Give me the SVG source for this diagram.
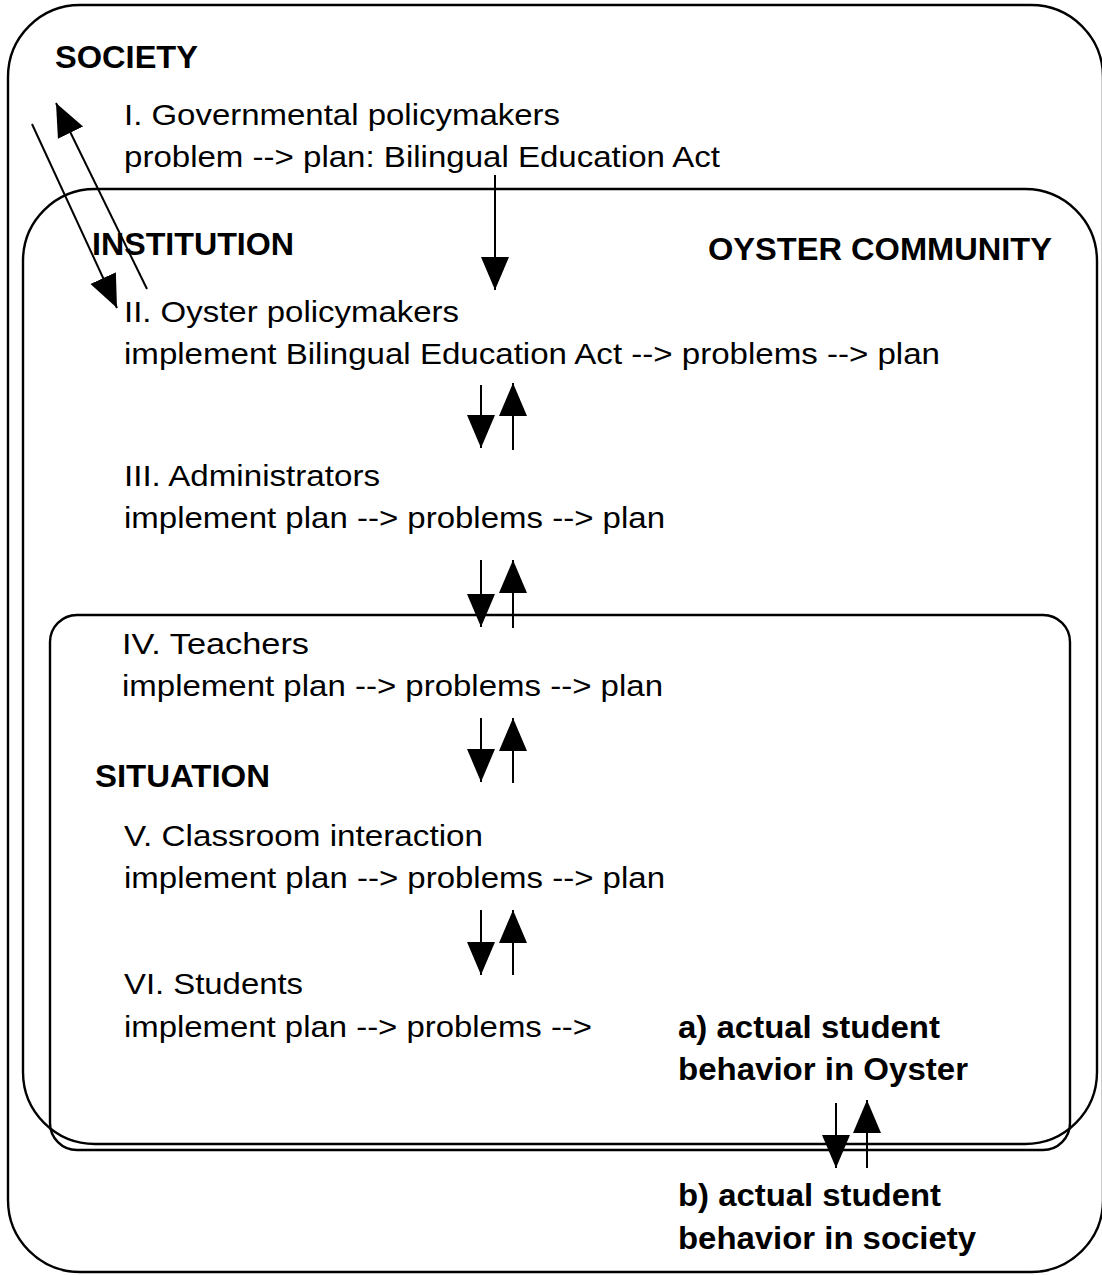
<svg xmlns="http://www.w3.org/2000/svg" width="1102" height="1275" viewBox="0 0 1102 1275">
<style>
.box{fill:none;stroke:#000;stroke-width:2.4}
.t{font-family:"Liberation Sans",Arial,sans-serif;font-size:30px;fill:#000}
.b{font-family:"Liberation Sans",Arial,sans-serif;font-size:31px;font-weight:bold;fill:#000}
.c{stroke:#000;stroke-width:2;fill:none;marker-end:url(#ah)}
</style>
<defs>
<marker id="ah" markerUnits="userSpaceOnUse" markerWidth="34" markerHeight="30" refX="33" refY="14" orient="auto" viewBox="0 0 34 28">
<path d="M0,0 L33,14 L0,28 z" fill="#000"/>
</marker>
</defs>
<rect width="1102" height="1275" fill="#fff"/>
<g id="society">
<rect class="box" x="8" y="5" width="1095" height="1267" rx="72" ry="72"/>
<text class="b" x="55" y="68" textLength="143" lengthAdjust="spacingAndGlyphs">SOCIETY</text>
</g>
<g id="institution">
<rect class="box" x="23" y="189" width="1074" height="955" rx="72" ry="72"/>
<text class="b" x="92" y="255" textLength="202" lengthAdjust="spacingAndGlyphs">INSTITUTION</text>
<text class="b" x="708" y="260" textLength="344" lengthAdjust="spacingAndGlyphs">OYSTER COMMUNITY</text>
</g>
<g id="situation">
<rect class="box" x="50" y="615" width="1020" height="535" rx="27" ry="27"/>
<text class="b" x="95" y="787" textLength="175" lengthAdjust="spacingAndGlyphs">SITUATION</text>
</g>
<g id="level1">
<text class="t" x="124" y="125" textLength="436" lengthAdjust="spacingAndGlyphs">I. Governmental policymakers</text>
<text class="t" x="124" y="167" textLength="596" lengthAdjust="spacingAndGlyphs">problem --&gt; plan: Bilingual Education Act</text>
</g>
<g id="level2">
<text class="t" x="124" y="322" textLength="335" lengthAdjust="spacingAndGlyphs">II. Oyster policymakers</text>
<text class="t" x="124" y="364" textLength="816" lengthAdjust="spacingAndGlyphs">implement Bilingual Education Act --&gt; problems --&gt; plan</text>
</g>
<g id="level3">
<text class="t" x="124" y="486" textLength="256" lengthAdjust="spacingAndGlyphs">III. Administrators</text>
<text class="t" x="124" y="528" textLength="541" lengthAdjust="spacingAndGlyphs">implement plan --&gt; problems --&gt; plan</text>
</g>
<g id="level4">
<text class="t" x="122" y="654" textLength="187" lengthAdjust="spacingAndGlyphs">IV. Teachers</text>
<text class="t" x="122" y="696" textLength="541" lengthAdjust="spacingAndGlyphs">implement plan --&gt; problems --&gt; plan</text>
</g>
<g id="level5">
<text class="t" x="124" y="846" textLength="359" lengthAdjust="spacingAndGlyphs">V. Classroom interaction</text>
<text class="t" x="124" y="888" textLength="541" lengthAdjust="spacingAndGlyphs">implement plan --&gt; problems --&gt; plan</text>
</g>
<g id="level6">
<text class="t" x="124" y="994" textLength="179" lengthAdjust="spacingAndGlyphs">VI. Students</text>
<text class="t" x="124" y="1037" textLength="468" lengthAdjust="spacingAndGlyphs">implement plan --&gt; problems --&gt;</text>
</g>
<g id="outcome-a">
<text class="b" x="678" y="1038" textLength="262" lengthAdjust="spacingAndGlyphs">a) actual student</text>
<text class="b" x="678" y="1080" textLength="290" lengthAdjust="spacingAndGlyphs">behavior in Oyster</text>
</g>
<g id="outcome-b">
<text class="b" x="678" y="1206" textLength="263" lengthAdjust="spacingAndGlyphs">b) actual student</text>
<text class="b" x="678" y="1249" textLength="298" lengthAdjust="spacingAndGlyphs">behavior in society</text>
</g>
<g id="connectors">
<line class="c" x1="32" y1="124" x2="117" y2="308"/>
<line class="c" x1="147" y1="289" x2="56" y2="103"/>
<line class="c" x1="495" y1="175" x2="495" y2="290"/>
<line class="c" x1="481" y1="385" x2="481" y2="448"/>
<line class="c" x1="513" y1="450" x2="513" y2="383"/>
<line class="c" x1="481" y1="560" x2="481" y2="627"/>
<line class="c" x1="513" y1="628" x2="513" y2="560"/>
<line class="c" x1="481" y1="718" x2="481" y2="782"/>
<line class="c" x1="513" y1="783" x2="513" y2="718"/>
<line class="c" x1="481" y1="910" x2="481" y2="975"/>
<line class="c" x1="513" y1="975" x2="513" y2="910"/>
<line class="c" x1="836" y1="1103" x2="836" y2="1168"/>
<line class="c" x1="867" y1="1168" x2="867" y2="1100"/>
</g>
</svg>
